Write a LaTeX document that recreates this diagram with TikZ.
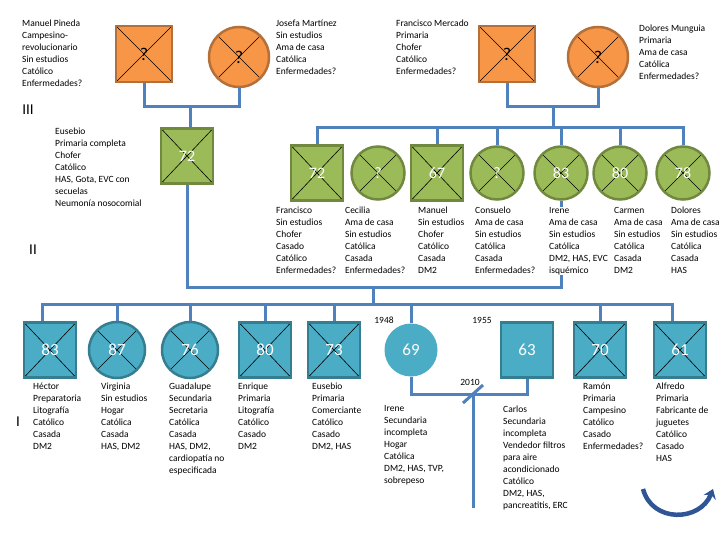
\documentclass[tikz,border=0pt]{standalone}
\usepackage{fontspec}
\setmainfont{Carlito}
\usetikzlibrary{arrows.meta}
\definecolor{orfill}{HTML}{F79646}
\definecolor{orline}{HTML}{B5703A}
\definecolor{grfill}{HTML}{9BBB59}
\definecolor{grline}{HTML}{71893F}
\definecolor{blfill}{HTML}{4BACC6}
\definecolor{blline}{HTML}{357D91}
\definecolor{conncol}{HTML}{4F81BD}
\definecolor{arrcol}{HTML}{2F5597}
\tikzset{
  dead/.style={path picture={\draw[black,line width=0.6pt]
      (path picture bounding box.north west) -- (path picture bounding box.south east)
      (path picture bounding box.north east) -- (path picture bounding box.south west);}},
  mal3/.style={rectangle, fill=orfill, draw=orline, line width=2.5pt, minimum width=56pt, minimum height=56pt, inner sep=0pt, font=\fontsize{18}{18}\selectfont},
  fem3/.style={circle, fill=orfill, draw=orline, line width=2.5pt, minimum size=60pt, inner sep=0pt, font=\fontsize{18}{18}\selectfont},
  mal2/.style={rectangle, fill=grfill, draw=grline, line width=2.5pt, minimum width=52pt, minimum height=55pt, inner sep=0pt, text=white, font=\fontsize{16}{16}\selectfont},
  fem2/.style={circle, fill=grfill, draw=grline, line width=2.5pt, minimum size=53pt, inner sep=0pt, text=white, font=\fontsize{16}{16}\selectfont},
  mal1/.style={rectangle, fill=blfill, draw=blline, line width=2.5pt, minimum width=52pt, minimum height=55pt, inner sep=0pt, text=white, font=\fontsize{17}{17}\selectfont},
  fem1/.style={circle, fill=blfill, draw=blline, line width=2.5pt, minimum size=56pt, inner sep=0pt, text=white, font=\fontsize{17}{17}\selectfont},
  conn/.style={draw=conncol, line width=3pt},
  info/.style={anchor=north west, inner sep=0pt, align=left, font=\fontsize{9.5}{12}\selectfont},
  yr/.style={inner sep=0pt, font=\fontsize{9.5}{12}\selectfont},
  gen/.style={inner sep=0pt, font=\fontsize{15}{15}\selectfont},
  bigarr/.style={draw=arrcol, line width=4.5pt, -{Stealth[length=9pt,width=13pt]}}
}
\begin{document}
\begin{tikzpicture}[x=1pt,y=-1pt]
\useasboundingbox (0,0) rectangle (720,540);
\fill[white] (0,0) rectangle (720,540);

% Generation III
\node[mal3,dead] (m3) at (144,54) {?};
\node[fem3,dead] (f3) at (239,57) {?};
\node[mal3,dead] (m3b) at (507,54) {?};
\node[fem3,dead] (f3b) at (598,57) {?};

% Generation II
\node[mal2,dead] (e2) at (187,156) {72};
\node[mal2,dead] (fr2) at (317,173) {72};
\node[fem2,dead] (ce2) at (378,173) {?};
\node[mal2,dead] (ma2) at (437,173) {67};
\node[fem2,dead] (co2) at (497,173) {?};
\node[fem2,dead] (ir2) at (561,173) {83};
\node[fem2,dead] (ca2) at (620,173) {80};
\node[fem2,dead] (do2) at (683,173) {78};

% Generation I
\node[mal1,dead] (he1) at (50,350) {83};
\node[fem1,dead] (vi1) at (117,350) {87};
\node[fem1,dead] (gu1) at (190,350) {76};
\node[mal1,dead] (en1) at (265,350) {80};
\node[mal1,dead] (eu1) at (334,350) {73};
\node[circle, fill=blfill, minimum size=53pt, inner sep=0pt, text=white, font=\fontsize{17}{17}\selectfont] (ir1) at (411,350) {69};
\node[mal1] (cb1) at (527,350) {63};
\node[mal1,dead] (ra1) at (600,350) {70};
\node[mal1,dead] (al1) at (680,350) {61};

% connectors generation III
\coordinate (j3L) at (190,107);
\draw[conn] (m3.south) |- (j3L) -| (f3.south);
\draw[conn] (j3L) -- (j3L |- e2.north);
\coordinate (j3R) at (553,107);
\draw[conn] (m3b.south) |- (j3R) -| (f3b.south);
\coordinate (s2) at (553,128);
\draw[conn] (j3R) -- (s2);
\draw[conn] (fr2.north) |- (s2) -| (do2.north);
\foreach \n in {ma2,co2,ir2,ca2} \draw[conn] (\n.north) -- (\n.north |- s2);

% connectors generation II
\coordinate (j2) at (373,287);
\draw[conn] (e2.south) |- (j2) -| (ir2.south);
\coordinate (s1) at (373,304);
\draw[conn] (j2) -- (s1);
\draw[conn] ([xshift=-8pt]he1.north) |- (s1) -| ([xshift=-8pt]al1.north);
\foreach \n in {vi1,gu1,en1,eu1,ir1,ra1} \draw[conn] (\n.north) -- (\n.north |- s1);

% couple generation I
\coordinate (j1) at (473,394);
\coordinate (c1end) at (473,508);
\draw[conn] (ir1.south) |- (j1) -| (cb1.south);
\draw[conn] (j1) -- (c1end);
\draw[conn] ([shift={(-10pt,-9pt)}]j1) -- ([shift={(10pt,9pt)}]j1);
\node[yr] (y48) at (384,320) {1948};
\node[yr] (y55) at (482,320) {1955};
\node[yr] (y10) at (470,382) {2010};

% curved arrow
\coordinate (ca) at (643,489);
\coordinate (cb) at (713,489);
\draw[bigarr] (ca) .. controls (652,523) and (700,522) .. (cb);

% generation labels
\node[gen] (g3) at (28,110) {III};
\node[gen] (g2) at (33,250) {II};
\node[gen] (g1) at (18,422) {I};

% texts generation III
\node[info] (t1) at (22,20) {Manuel Pineda\\Campesino-\\revolucionario\\Sin estudios\\Católico\\Enfermedades?};
\node[info] (t2) at (276,20) {Josefa Martínez\\Sin estudios\\Ama de casa\\Católica\\Enfermedades?};
\node[info] (t3) at (396,20) {Francisco Mercado\\Primaria\\Chofer\\Católico\\Enfermedades?};
\node[info] (t4) at (639,25) {Dolores Munguia\\Primaria\\Ama de casa\\Católica\\Enfermedades?};

% texts generation II
\node[info] (t5) at (55,128) {Eusebio\\Primaria completa\\Chofer\\Católico\\HAS, Gota, EVC con\\secuelas\\Neumonía nosocomial};
\node[info] (t6) at (276,207) {Francisco\\Sin estudios\\Chofer\\Casado\\Católico\\Enfermedades?};
\node[info] (t7) at (345,207) {Cecilia\\Ama de casa\\Sin estudios\\Católica\\Casada\\Enfermedades?};
\node[info] (t8) at (418,207) {Manuel\\Sin estudios\\Chofer\\Católico\\Casada\\DM2};
\node[info] (t9) at (475,207) {Consuelo\\Ama de casa\\Sin estudios\\Católica\\Casada\\Enfermedades?};
\node[info, fill=white] (t10) at (549,207) {Irene\\Ama de casa\\Sin estudios\\Católica\\DM2, HAS, EVC\\isquémico};
\node[info] (t11) at (614,207) {Carmen\\Ama de casa\\Sin estudios\\Católica\\Casada\\DM2};
\node[info] (t12) at (671,207) {Dolores\\Ama de casa\\Sin estudios\\Católica\\Casada\\HAS};

% texts generation I
\node[info] (t13) at (33,383) {Héctor\\Preparatoria\\Litografía\\Católico\\Casada\\DM2};
\node[info] (t14) at (101,383) {Virginia\\Sin estudios\\Hogar\\Católica\\Casada\\HAS, DM2};
\node[info] (t15) at (169,383) {Guadalupe\\Secundaria\\Secretaria\\Católica\\Casada\\HAS, DM2,\\cardiopatía no\\especificada};
\node[info] (t16) at (238,383) {Enrique\\Primaria\\Litografía\\Católico\\Casado\\DM2};
\node[info] (t17) at (312,383) {Eusebio\\Primaria\\Comerciante\\Católico\\Casado\\DM2, HAS};
\node[info] (t18) at (384,405) {Irene\\Secundaria\\incompleta\\Hogar\\Católica\\DM2, HAS, TVP,\\sobrepeso};
\node[info] (t19) at (503,406) {Carlos\\Secundaria\\incompleta\\Vendedor filtros\\para aire\\acondicionado\\Católico\\DM2, HAS,\\pancreatitis, ERC};
\node[info] (t20) at (583,383) {Ramón\\Primaria\\Campesino\\Católico\\Casado\\Enfermedades?};
\node[info] (t21) at (656,383) {Alfredo\\Primaria\\Fabricante de\\juguetes\\Católico\\Casado\\HAS};
\end{tikzpicture}
\end{document}
